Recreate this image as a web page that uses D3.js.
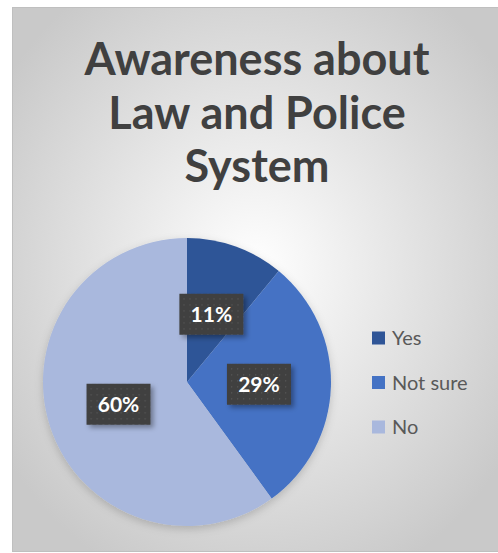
<!DOCTYPE html>
<html>
<head>
<meta charset="utf-8">
<script src="https://cdn.jsdelivr.net/npm/d3@7"></script>
<style>
  body { margin: 0; background: #fff; }
  svg { display: block; }
</style>
</head>
<body>
<div id="chart"></div>
<script>
// data
const categories = ["Yes", "Not sure", "No"];
const values = [11, 29, 60];
const colors = ["#2f5597", "#4472c4", "#a9b8dd"];
const titleLines = ["Awareness about", "Law and Police", "System"];

const width = 498, height = 553;
const font = "Lato, 'Open Sans', sans-serif";

const svg = d3.select("#chart").append("svg")
  .attr("width", width)
  .attr("height", height);

const defs = svg.append("defs");

// background gradient, white in middle, gray at the edges
const bg = defs.append("radialGradient")
  .attr("id", "bg")
  .attr("cx", "50%").attr("cy", "48%").attr("r", "62%");
bg.append("stop").attr("offset", "0%").attr("stop-color", "#ffffff");
bg.append("stop").attr("offset", "100%").attr("stop-color", "#c9c9c9");

// dotted fill for the data labels
const pat = defs.append("pattern")
  .attr("id", "dots")
  .attr("width", 6).attr("height", 6)
  .attr("patternUnits", "userSpaceOnUse");
pat.append("rect").attr("width", 6).attr("height", 6).attr("fill", "#3f3f3f");
pat.append("rect").attr("x", 2).attr("y", 2).attr("width", 1.3).attr("height", 1.3).attr("fill", "#585858");

const shadow = defs.append("filter").attr("id", "shadow")
  .attr("x", "-30%").attr("y", "-30%").attr("width", "160%").attr("height", "160%");
shadow.append("feDropShadow")
  .attr("dx", 3).attr("dy", 3).attr("stdDeviation", 2.5)
  .attr("flood-color", "#000").attr("flood-opacity", 0.35);

const pieShadow = defs.append("filter").attr("id", "pieshadow")
  .attr("x", "-20%").attr("y", "-20%").attr("width", "140%").attr("height", "140%");
pieShadow.append("feDropShadow")
  .attr("dx", 0).attr("dy", 3).attr("stdDeviation", 4)
  .attr("flood-color", "#000").attr("flood-opacity", 0.18);

// chart area
svg.append("rect")
  .attr("x", 12.5).attr("y", 7.5)
  .attr("width", width - 12).attr("height", height - 9)
  .attr("fill", "url(#bg)")
  .attr("stroke", "#bfbfbf");

// title
const title = svg.append("text")
  .attr("text-anchor", "middle")
  .attr("font-family", font)
  .attr("font-weight", "bold")
  .attr("font-size", 45)
  .attr("fill", "#404040");
title.selectAll("tspan")
  .data(titleLines)
  .enter()
  .append("tspan")
  .attr("x", 257)
  .attr("y", (d, i) => 75 + i * 53.5)
  .text(d => d);

// pie
const cx = 187, cy = 382, radius = 144;
const pie = d3.pie().sort(null)(values);
const arc = d3.arc().innerRadius(0).outerRadius(radius);

const g = svg.append("g").attr("transform", "translate(" + cx + "," + cy + ")");
g.append("g").attr("filter", "url(#pieshadow)")
  .selectAll("path")
  .data(pie)
  .enter()
  .append("path")
  .attr("d", arc)
  .attr("fill", (d, i) => colors[i]);

// data labels
const labelArc = d3.arc().innerRadius(radius * 0.5).outerRadius(radius * 0.5);
const labels = g.selectAll(".lbl")
  .data(pie)
  .enter()
  .append("g")
  .attr("class", "lbl")
  .attr("transform", d => {
    const c = labelArc.centroid(d);
    return "translate(" + c[0] + "," + c[1] + ")";
  });
labels.append("rect")
  .attr("x", -32).attr("y", -20.5)
  .attr("width", 64).attr("height", 41)
  .attr("fill", "url(#dots)")
  .attr("filter", "url(#shadow)");
labels.append("text")
  .attr("text-anchor", "middle")
  .attr("dy", "0.36em")
  .attr("font-family", font)
  .attr("font-weight", "bold")
  .attr("font-size", 21)
  .attr("fill", "#ffffff")
  .text(d => d.data + "%");

// legend
const legend = svg.append("g").attr("transform", "translate(372,338)");
const items = legend.selectAll("g")
  .data(categories)
  .enter()
  .append("g")
  .attr("transform", (d, i) => "translate(0," + i * 44.5 + ")");
items.append("rect")
  .attr("x", 0).attr("y", -6.5)
  .attr("width", 13).attr("height", 13)
  .attr("fill", (d, i) => colors[i]);
items.append("text")
  .attr("x", 20)
  .attr("dy", "0.35em")
  .attr("font-family", font)
  .attr("font-size", 20)
  .attr("fill", "#595959")
  .text(d => d);
</script>
</body>
</html>
